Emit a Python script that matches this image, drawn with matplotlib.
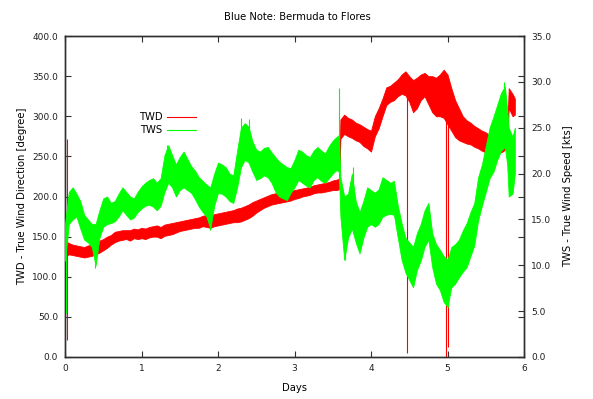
import numpy as np
import matplotlib
matplotlib.use('Agg')
import matplotlib.pyplot as plt
from matplotlib.lines import Line2D

# sample times in days (0.05 day steps, a few extra points at the jumps)
days = [0.00, 0.05, 0.10, 0.15, 0.20, 0.25, 0.30, 0.35, 0.40, 0.45,
        0.50, 0.55, 0.60, 0.65, 0.70, 0.75, 0.80, 0.85, 0.90, 0.95,
        1.00, 1.05, 1.10, 1.15, 1.20, 1.25, 1.30, 1.35, 1.40, 1.45,
        1.50, 1.55, 1.60, 1.65, 1.70, 1.75, 1.80, 1.85, 1.90, 1.95,
        2.00, 2.05, 2.10, 2.15, 2.20, 2.25, 2.30, 2.35, 2.40, 2.45,
        2.50, 2.55, 2.60, 2.65, 2.70, 2.75, 2.80, 2.85, 2.90, 2.95,
        3.00, 3.05, 3.10, 3.15, 3.20, 3.25, 3.30, 3.35, 3.40, 3.45,
        3.50, 3.55, 3.58, 3.60, 3.65, 3.70, 3.75, 3.80, 3.85, 3.90,
        3.95, 4.00, 4.05, 4.10, 4.15, 4.20, 4.25, 4.30, 4.35, 4.40,
        4.45, 4.50, 4.55, 4.60, 4.65, 4.70, 4.75, 4.80, 4.85, 4.90,
        4.95, 5.00, 5.05, 5.10, 5.15, 5.20, 5.25, 5.30, 5.35, 5.40,
        5.45, 5.50, 5.55, 5.60, 5.65, 5.70, 5.75, 5.78, 5.80, 5.85,
        5.88]

# TWD band (degree): low / high edge of the noisy trace
twd_lo = [125, 128, 127, 126, 125, 124, 125, 126, 128, 130,
          133, 136, 140, 143, 145, 146, 147, 145, 148, 147,
          148, 147, 149, 150, 150, 148, 151, 152, 153, 155,
          157, 158, 159, 160, 161, 161, 163, 162, 161, 163,
          164, 165, 166, 167, 168, 168, 169, 171, 173, 176,
          180, 183, 186, 188, 190, 191, 192, 193, 194, 195,
          197, 198, 200, 201, 202, 204, 205, 205, 206, 207,
          208, 208, 209, 272, 278, 275, 273, 270, 268, 263,
          260, 256, 275, 285, 300, 314, 318, 320, 325, 328,
          326, 318, 305, 310, 320, 325, 315, 305, 300, 300,
          298, 290, 282, 274, 270, 268, 266, 265, 262, 260,
          257, 255, 254, 254, 254, 255, 258, 262, 310, 300,
          302]
twd_hi = [145, 142, 140, 139, 138, 137, 139, 140, 142, 145,
          147, 150, 152, 156, 157, 158, 158, 158, 160, 159,
          161, 160, 162, 163, 164, 162, 165, 166, 167, 168,
          169, 170, 171, 172, 173, 174, 176, 177, 176, 178,
          179, 180, 181, 182, 183, 185, 186, 188, 190, 193,
          195, 197, 199, 201, 203, 204, 205, 205, 206, 207,
          208, 209, 210, 211, 212, 214, 215, 216, 217, 218,
          220, 221, 222, 296, 302, 298, 296, 292, 290, 287,
          284, 282, 300, 310, 322, 336, 338, 342, 346, 352,
          356, 350, 345, 348, 352, 354, 350, 350, 348, 352,
          358, 352, 335, 320, 310, 300, 295, 292, 288, 285,
          282, 280, 276, 272, 270, 272, 275, 280, 335, 328,
          322]

# TWS band (kts)
tws_lo = [10.5, 14.5, 15.0, 15.3, 14.0, 12.8, 12.5, 12.0, 10.0, 13.0,
          14.2, 14.5, 14.6, 14.8, 15.3, 16.0, 15.5, 15.0, 15.2, 15.8,
          16.2, 16.5, 16.6, 16.4, 16.0, 16.5, 18.0, 19.0, 18.5, 17.5,
          18.2, 18.5, 18.2, 17.9, 17.2, 16.4, 15.8, 15.3, 14.0, 16.5,
          17.9, 17.8, 17.5, 17.0, 16.8, 18.5, 20.7, 21.5, 21.2, 20.2,
          19.3, 19.5, 19.8, 19.6, 19.0, 18.0, 17.5, 17.3, 17.1, 17.9,
          18.5, 19.3, 19.0, 18.7, 18.5, 19.3, 19.6, 19.2, 19.0, 19.5,
          20.0, 20.4, 20.2, 15.3, 10.6, 13.0, 14.0, 12.5, 11.3, 13.0,
          14.2, 14.5, 14.2, 14.5, 15.3, 15.5, 15.6, 15.5, 13.0, 10.6,
          9.2, 8.4, 7.6, 9.5, 10.5, 12.0, 12.8, 9.8, 8.0, 7.3,
          6.0, 5.5, 7.6, 8.0, 8.7, 9.3, 9.8, 11.0, 12.2, 14.9,
          16.5, 18.0, 19.5, 20.2, 21.5, 22.5, 22.9, 21.0, 17.5, 17.8,
          20.0]
tws_hi = [14.5, 18.0, 18.5, 17.8, 17.0, 15.5, 15.0, 14.5, 14.5, 16.0,
          17.3, 17.5, 16.8, 17.0, 17.8, 18.5, 18.0, 17.5, 17.3, 18.0,
          18.6, 19.0, 19.3, 19.5, 19.0, 19.5, 22.0, 23.1, 22.0, 21.0,
          21.8, 22.4, 21.6, 20.8, 20.3, 19.6, 19.2, 18.8, 18.5, 20.0,
          21.2, 21.0, 20.7, 20.0, 19.8, 22.5, 25.0, 25.5, 25.1, 23.5,
          22.6, 22.4, 22.8, 22.9, 22.3, 21.8, 21.3, 21.0, 20.7, 20.6,
          21.5, 22.6, 22.4, 22.0, 21.8, 22.5, 22.9, 22.5, 22.2, 23.0,
          23.6, 24.0, 24.2, 19.6, 17.5, 17.8, 20.0, 17.0, 15.8, 17.0,
          18.5, 18.2, 17.9, 18.3, 19.6, 19.3, 19.0, 19.2, 16.5, 14.6,
          13.0, 12.5, 12.0, 13.5, 14.5, 16.0, 16.8, 13.5, 12.3, 11.7,
          11.0, 10.6, 12.0, 12.3, 12.8, 13.8, 14.6, 15.8, 16.8, 19.6,
          21.0, 23.0, 25.0, 26.2, 27.5, 28.8, 29.5, 27.0, 25.0, 24.0,
          25.0]

# single-sample outliers (vertical spikes)
twd_spike_days = [0.02, 4.47, 4.975, 5.01]
twd_spike_lo = [21, 5, 0, 12]
twd_spike_hi = [272, 330, 300, 300]
tws_spike_days = [0.01, 0.39, 1.33, 1.90, 2.30, 2.40, 3.58, 3.66, 3.77, 5.00, 5.74]
tws_spike_lo = [4.8, 9.7, 20.0, 13.8, 22.0, 22.0, 20.0, 10.6, 16.0, 5.5, 24.0]
tws_spike_hi = [14.0, 13.0, 23.1, 16.0, 26.1, 26.0, 29.3, 14.0, 20.7, 8.0, 30.0]

RED = '#ff0000'
GREEN = '#00ff00'
AXCOL = '#303030'
FS = 6.5   # tick labels
LFS = 7.2  # title / axis labels

plt.rcParams['font.family'] = 'DejaVu Sans'
fig = plt.figure(figsize=(5.93, 3.99), dpi=100)
ax = fig.add_axes([65 / 593, 1 - 357 / 399, 459 / 593, 321 / 399])
ax2 = ax.twinx()

# TWD on the left axis
ax.fill_between(days, twd_lo, twd_hi, color=RED, linewidth=0.6, zorder=2)
ax.vlines(twd_spike_days, twd_spike_lo, twd_spike_hi, color=RED,
          linewidth=0.8, zorder=2)

# TWS on the right axis, drawn on top
ax2.fill_between(days, tws_lo, tws_hi, color=GREEN, linewidth=0.6, zorder=3)
ax2.vlines(tws_spike_days, tws_spike_lo, tws_spike_hi, color=GREEN,
           linewidth=0.8, zorder=3)

ax.set_xlim(0, 6)
ax.set_ylim(0, 400)
ax2.set_ylim(0, 35)
ax.set_xticks(np.arange(0, 7, 1))
ax.set_yticks(np.arange(0, 401, 50))
ax2.set_yticks(np.arange(0, 35.1, 5))
ax.set_yticklabels(['%.1f' % v for v in np.arange(0, 401, 50)])
ax2.set_yticklabels(['%.1f' % v for v in np.arange(0, 35.1, 5)])

ax.tick_params(axis='both', direction='in', length=4, width=0.8,
               color=AXCOL, labelsize=FS, labelcolor='#202020',
               top=True, right=True, pad=5)
ax2.tick_params(axis='y', direction='in', length=4, width=0.8,
                color=AXCOL, labelsize=FS, labelcolor='#202020', pad=5)
for a in (ax, ax2):
    for side in a.spines:
        a.spines[side].set_color(AXCOL)
        a.spines[side].set_linewidth(1.0)

ax.set_xlabel('Days', fontsize=LFS, labelpad=7)
ax.set_ylabel('TWD - True Wind Direction [degree]', fontsize=LFS, labelpad=4)
ax2.set_ylabel('TWS - True Wind Speed [kts]', fontsize=LFS, labelpad=9)
fig.text(297 / 593, 1 - 17 / 399, 'Blue Note: Bermuda to Flores',
         fontsize=LFS, ha='center', va='center')

handles = [Line2D([], [], color=RED, linewidth=0.8),
           Line2D([], [], color=GREEN, linewidth=0.8)]
ax2.legend(handles, ['TWD', 'TWS'], loc='upper right',
           bbox_to_anchor=(0.286, 0.762), frameon=False, markerfirst=False,
           fontsize=LFS, handlelength=2.9, handletextpad=0.5,
           labelspacing=0.3, borderpad=0, borderaxespad=0)

fig.savefig('out.png', dpi=100)
plt.close()
